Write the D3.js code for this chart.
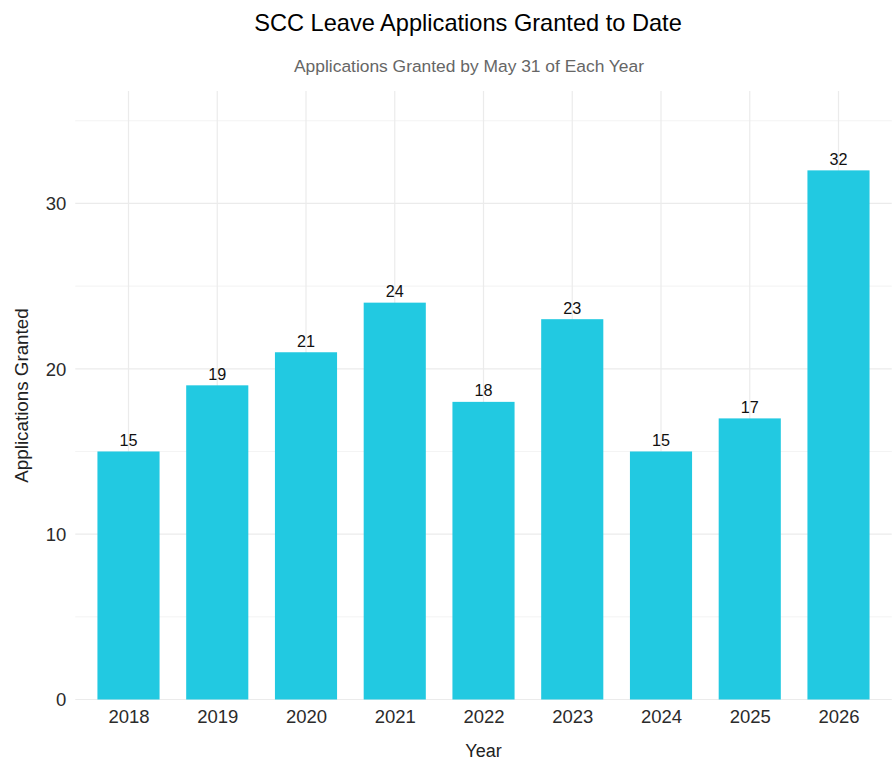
<!DOCTYPE html>
<html>
<head>
<meta charset="utf-8">
<script src="https://cdn.jsdelivr.net/npm/d3@7"></script>
<style>
html,body{margin:0;padding:0;background:#fff;}
svg{display:block;font-family:"Liberation Sans",Arial,sans-serif;}
</style>
</head>
<body>
<svg id="chart" width="894" height="762"></svg>
<script>
const years = ["2018","2019","2020","2021","2022","2023","2024","2025","2026"];
const granted = [15, 19, 21, 24, 18, 23, 15, 17, 32];
const yTicks = [0, 10, 20, 30];
const yMinorTicks = [5, 15, 25, 35];

(function () {
const svg = d3.select("#chart");
const pLeft = 75.25, pRight = 891.75, pTop = 91, pBottom = 699.5;

// ggplot discrete: step s, bar width 0.7s, outer expansion 0.6s from centre
const step = (pRight - pLeft) / (years.length - 1 + 1.2);
const cx = d3.scalePoint().domain(years).range([pLeft + 0.6 * step, pRight - 0.6 * step]);
const barW = 0.7 * step;

const y = d3.scaleLinear().domain([0, 32 * 1.15]).range([pBottom, pTop]);

const grid = svg.append("g");
grid.selectAll("line.minor").data(yMinorTicks).join("line").attr("class", "minor")
  .attr("x1", pLeft).attr("x2", pRight)
  .attr("y1", d => y(d)).attr("y2", d => y(d))
  .attr("stroke", "#ebebeb").attr("stroke-width", 0.6);
grid.selectAll("line.major").data(yTicks).join("line").attr("class", "major")
  .attr("x1", pLeft).attr("x2", pRight)
  .attr("y1", d => y(d)).attr("y2", d => y(d))
  .attr("stroke", "#ebebeb").attr("stroke-width", 1.2);
grid.selectAll("line.vert").data(years).join("line").attr("class", "vert")
  .attr("x1", d => cx(d)).attr("x2", d => cx(d))
  .attr("y1", pTop).attr("y2", pBottom)
  .attr("stroke", "#ebebeb").attr("stroke-width", 1.2);

svg.append("g").selectAll("rect").data(years).join("rect")
  .attr("x", (d) => cx(d) - barW / 2)
  .attr("width", barW)
  .attr("y", (d, i) => y(granted[i]))
  .attr("height", (d, i) => y(0) - y(granted[i]))
  .attr("fill", "#22c9e1");

svg.append("g").selectAll("text").data(years).join("text")
  .attr("x", d => cx(d))
  .attr("y", (d, i) => y(granted[i]) - 5.5)
  .attr("text-anchor", "middle")
  .attr("font-size", 16.2)
  .attr("fill", "#111")
  .text((d, i) => granted[i]);

const yAxis = d3.axisLeft(y).tickValues(yTicks).tickSize(0).tickPadding(9);
const gy = svg.append("g").attr("transform", `translate(${pLeft},0)`).call(yAxis);
gy.select(".domain").remove();
gy.selectAll("text").attr("font-size", 18.5).attr("fill", "#2b2b2b")
  .attr("font-family", "Liberation Sans, Arial, sans-serif").attr("dy", "0.35em");

const xAxis = d3.axisBottom(cx).tickSize(0).tickPadding(10);
const gx = svg.append("g").attr("transform", `translate(0,${pBottom})`).call(xAxis);
gx.select(".domain").remove();
gx.selectAll("text").attr("font-size", 18.5).attr("fill", "#2b2b2b")
  .attr("font-family", "Liberation Sans, Arial, sans-serif");

svg.append("text").attr("x", 468).attr("y", 31).attr("text-anchor", "middle")
  .attr("font-size", 23.6).attr("fill", "#000").text("SCC Leave Applications Granted to Date");
svg.append("text").attr("x", 469).attr("y", 72).attr("text-anchor", "middle")
  .attr("font-size", 17.4).attr("fill", "#666").text("Applications Granted by May 31 of Each Year");
svg.append("text").attr("x", (pLeft + pRight) / 2).attr("y", 757).attr("text-anchor", "middle")
  .attr("font-size", 18).attr("fill", "#222").text("Year");
svg.append("text").attr("transform", `translate(27.5,395.5) rotate(-90)`).attr("text-anchor", "middle")
  .attr("font-size", 18.8).attr("fill", "#222").text("Applications Granted");
})();
</script>
</body>
</html>
